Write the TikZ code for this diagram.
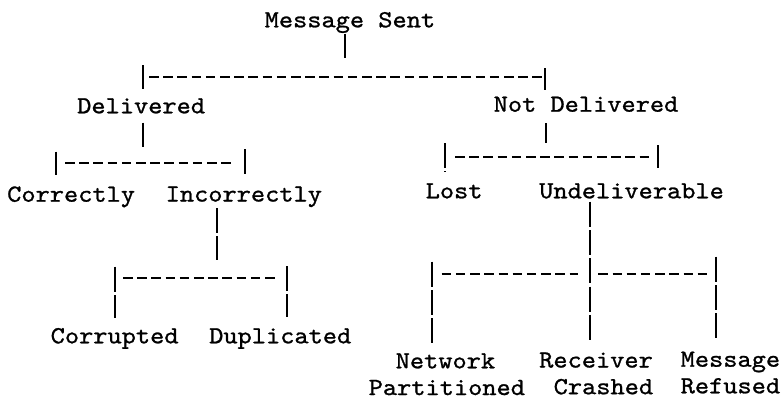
\documentclass[tikz,border=0pt]{standalone}
\usepackage{fontspec}
\newfontfamily\typewriter[FakeStretch=1.10,FakeBold=1.0]{lmmono10-regular.otf}
\begin{document}
\begin{tikzpicture}[x=1pt,y=-1pt,
  lbl/.style={anchor=base west,inner sep=0pt,
    font=\typewriter\fontsize{24.6}{26.7}\selectfont},
  vbar/.style={line width=1.9pt,dash pattern=on 25pt off 3.3pt},
  hrule/.style={line width=1.9pt,dash pattern=on 9.5pt off 4.7pt}]
\useasboundingbox (0,0) rectangle (783,399);

% ---- labels ----
\node[lbl] (ms)   at (264.5,27.3)  {Message Sent};
\node[lbl] (del)  at (77,113.3)    {Delivered};
\node[lbl] (ndel) at (493.5,111.7) {Not Delivered};
\node[lbl] (cor)  at (7,201.7)     {Correctly};
\node[lbl] (inc)  at (165.5,201.5) {Incorrectly};
\node[lbl] (lost) at (425.5,198.3) {Lost};
\node[lbl] (und)  at (539,198.3)   {Undeliverable};
\node[lbl] (corr) at (50.5,343.3)  {Corrupted};
\node[lbl] (dup)  at (209,343.3)   {Duplicated};
\node[lbl] (net)  at (395.5,368.3) {Network};
\node[lbl] (netb) at (368.5,395)   {Partitioned};
\node[lbl] (rec)  at (539,367.5)   {Receiver};
\node[lbl] (recb) at (553.5,394.2) {Crashed};
\node[lbl] (msg)  at (680.5,366.7) {Message};
\node[lbl] (msgb) at (680.5,393.3) {Refused};

% ---- junction points ----
% Message Sent -> Delivered / Not Delivered
\coordinate (msA) at (345,33.5);   \coordinate (msB) at (345,58.3);
\coordinate (aL1) at (142.7,65);   \coordinate (aL2) at (142.7,89.3);
\coordinate (aR1) at (545,68);     \coordinate (aR2) at (545,90);
\coordinate (aH1) at (149,77.3);   \coordinate (aH2) at (542,77.3);
% Delivered -> Correctly / Incorrectly
\coordinate (dS1) at (142.7,122.7); \coordinate (dS2) at (142.7,146.7);
\coordinate (bL1) at (56,151.7);    \coordinate (bL2) at (56,175);
\coordinate (bR1) at (245,149);     \coordinate (bR2) at (245,174);
\coordinate (bH1) at (65,163.3);    \coordinate (bH2) at (231,163.3);
% Not Delivered -> Lost / Undeliverable
\coordinate (nS1) at (545.7,123);   \coordinate (nS2) at (545.7,143);
\coordinate (cL1) at (445,143);     \coordinate (cL2) at (445,172);
\coordinate (cR1) at (658,145);     \coordinate (cR2) at (658,168);
\coordinate (cH1) at (455,157);     \coordinate (cH2) at (650,157);
% Incorrectly -> Corrupted / Duplicated
\coordinate (kS1) at (216.7,208);   \coordinate (kS2) at (216.7,260);
\coordinate (kL1) at (115,266.7);   \coordinate (kL2) at (115,318);
\coordinate (kR1) at (287.3,266);   \coordinate (kR2) at (287.3,316.7);
\coordinate (kH1) at (123,278.3);   \coordinate (kH2) at (278,278.3);
% Undeliverable -> Network Partitioned / Receiver Crashed / Message Refused
\coordinate (uS1) at (590,201.7);   \coordinate (uS2) at (590,342);
\coordinate (eL1) at (431.7,261.7); \coordinate (eL2) at (431.7,343.3);
\coordinate (eR1) at (716,256.7);   \coordinate (eR2) at (716,340);
\coordinate (eH1) at (441.7,274);   \coordinate (eH2) at (578.3,274);
\coordinate (eH3) at (598.3,274);   \coordinate (eH4) at (708.3,274);

% ---- connectors ----
\draw[vbar]  (msA) -- (msB);
\draw[vbar]  (aL1) -- (aL2);
\draw[vbar]  (aR1) -- (aR2);
\draw[hrule] (aH1) -- (aH2);

\draw[vbar]  (dS1) -- (dS2);
\draw[vbar]  (bL1) -- (bL2);
\draw[vbar]  (bR1) -- (bR2);
\draw[hrule] (bH1) -- (bH2);

\draw[vbar]  (nS1) -- (nS2);
\draw[vbar]  (cL1) -- (cL2);
\draw[vbar]  (cR1) -- (cR2);
\draw[hrule] (cH1) -- (cH2);

\draw[vbar]  (kS1) -- (kS2);
\draw[vbar]  (kL1) -- (kL2);
\draw[vbar]  (kR1) -- (kR2);
\draw[hrule] (kH1) -- (kH2);

\draw[vbar]  (uS1) -- (uS2);
\draw[vbar]  (eL1) -- (eL2);
\draw[vbar]  (eR1) -- (eR2);
\draw[hrule] (eH1) -- (eH2);
\draw[hrule] (eH3) -- (eH4);
\end{tikzpicture}
\end{document}
